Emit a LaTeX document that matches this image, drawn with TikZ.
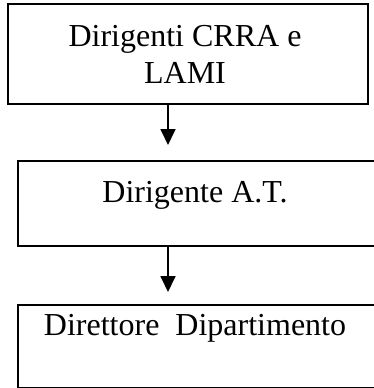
\documentclass[tikz,border=0pt]{standalone}
\usepackage{fontspec}
\setmainfont{Liberation Serif}
\usetikzlibrary{arrows.meta}
\begin{document}
\begin{tikzpicture}[x=1pt,y=-1pt,
  boxst/.style={draw=black,line width=1.6pt,rectangle,inner sep=0pt},
  lbl/.style={inner sep=0pt,font=\fontsize{32}{37}\selectfont},
  arr/.style={line width=1.8pt,-{Triangle[length=16pt,width=15pt]}}]
\useasboundingbox (0,0) rectangle (374,388);
\node[boxst,minimum width=360pt,minimum height=100pt] (b1) at (188,54) {};
\node[boxst,minimum width=360pt,minimum height=85pt,anchor=north west] (b2) at (17,160) {};
\node[boxst,minimum width=360pt,minimum height=83pt,anchor=north west] (b3) at (17,304) {};
\node[lbl,align=center] (t1) at (185,54.6) {Dirigenti CRRA e\\LAMI};
\node[lbl,anchor=base] (t2) at (195,202) {Dirigente A.T.};
\node[lbl,anchor=base] (t3) at (195,335) {Direttore\ \ Dipartimento};
\coordinate (a1) at (168,0);
\draw[arr,shorten >=15pt] (b1.south -| a1) -- (b2.north -| a1);
\draw[arr,shorten >=12pt] (b2.south -| a1) -- (b3.north -| a1);
\end{tikzpicture}
\end{document}
